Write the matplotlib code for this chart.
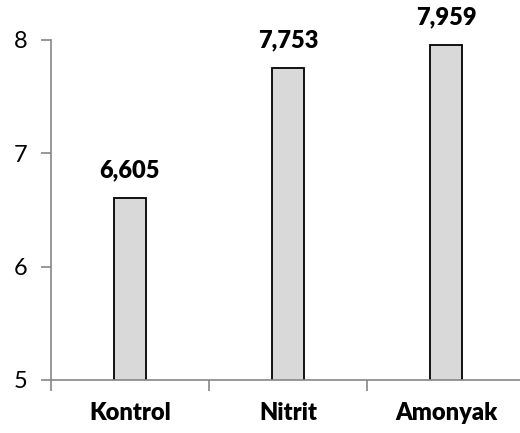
import matplotlib.pyplot as plt
from matplotlib.ticker import FixedLocator, NullFormatter

categories = ["Kontrol", "Nitrit", "Amonyak"]
values = [6.605, 7.753, 7.959]
value_labels = ["6,605", "7,753", "7,959"]
y_ticks = [5, 6, 7, 8]

plt.rcParams['font.family'] = ['Lato', 'DejaVu Sans']

fig = plt.figure(figsize=(5.2, 4.33), dpi=100)
ax = fig.add_axes([51 / 520, 1 - 380 / 433, 474 / 520, 340 / 433])

x = range(len(categories))
ax.bar(x, values, width=0.2, color="#d9d9d9", edgecolor="black", linewidth=1.3, zorder=2)

ax.set_xlim(-0.5, len(categories) - 0.5)
ax.set_ylim(5, 8)

axis_color = "#868686"
for side in ("top", "right"):
    ax.spines[side].set_visible(False)
for side in ("left", "bottom"):
    ax.spines[side].set_color(axis_color)
    ax.spines[side].set_linewidth(1.2)
    ax.spines[side].set_zorder(3)

ax.set_yticks(y_ticks)
ax.set_yticklabels([str(t) for t in y_ticks], fontsize=17)
ax.tick_params(axis="y", direction="out", length=7, width=1.2, color=axis_color, pad=10)

# category labels centred under bars, tick marks between categories
ax.set_xticks(list(x))
ax.set_xticklabels(categories, fontsize=17, fontweight="heavy")
ax.tick_params(axis="x", which="major", length=0, pad=16)
ax.xaxis.set_minor_locator(FixedLocator([-0.5, 0.5, 1.5, 2.5]))
ax.xaxis.set_minor_formatter(NullFormatter())
ax.tick_params(axis="x", which="minor", direction="out", length=8, width=1.2, color=axis_color)

for xi, v, lab in zip(x, values, value_labels):
    ax.annotate(lab, (xi, v), xytext=(0, 12), textcoords="offset points",
                ha="center", va="bottom", fontsize=17, fontweight="heavy",
                annotation_clip=False)

for sp in ax.spines.values():
    sp.set_clip_on(False)

fig.savefig("out.png", dpi=100)
